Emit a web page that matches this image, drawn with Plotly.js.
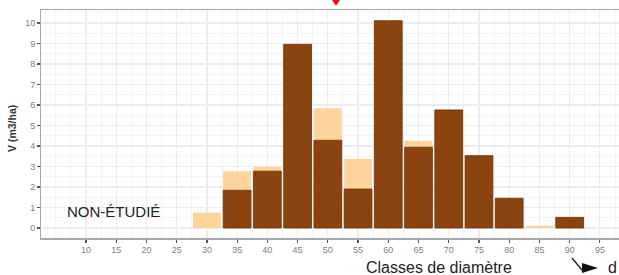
<!DOCTYPE html>
<html><head><meta charset="utf-8">
<script src="https://cdn.plot.ly/plotly-3.0.1.min.js"></script>
<style>html,body{margin:0;padding:0;background:#fff;}#chart{width:619px;height:275px;}</style>
</head><body><div id="chart"></div>
<script>
const classes = [30, 35, 40, 45, 50, 55, 60, 65, 70, 75, 80, 85, 90];
const volumeTotal = [0.75, 2.77, 2.99, 8.96, 5.84, 3.37, 10.11, 4.26, 5.76, 3.53, 1.45, 0.11, 0.52];
const volumePart  = [null, 1.84, 2.77, 8.96, 4.28, 1.9, 10.11, 3.94, 5.76, 3.53, 1.45, null, 0.52];
const xTicks = [10, 15, 20, 25, 30, 35, 40, 45, 50, 55, 60, 65, 70, 75, 80, 85, 90, 95];
const yTicks = [0, 1, 2, 3, 4, 5, 6, 7, 8, 9, 10];

const px = v => (v - 41) / 578;
const py = v => (238 - v) / 228;

const traces = [
  {type:'bar', x:classes, y:volumeTotal, width:4.6, marker:{color:'#FFD49C', line:{width:0}}, hoverinfo:'x+y'},
  {type:'bar', x:classes, y:volumePart, width:4.6, marker:{color:'#8B4410', line:{width:0.8, color:'#6e3408'}}, hoverinfo:'x+y'}
];
const layout = {
  width:619, height:275, barmode:'overlay', showlegend:false,
  margin:{l:41, r:0, t:10, b:37},
  paper_bgcolor:'#fff', plot_bgcolor:'#fff',
  font:{family:'Liberation Sans, Arial, sans-serif'},
  xaxis:{range:[2.56, 98.16], tickvals:xTicks, ticktext:xTicks.map(String),
    showline:true, linecolor:'#a8a8a8', linewidth:1.5, mirror:true,
    ticks:'outside', ticklen:3, tickcolor:'#555', tickwidth:1.2,
    tickfont:{size:9, color:'#808080'},
    showgrid:true, gridcolor:'#ececec', gridwidth:1.2, zeroline:false,
    minor:{dtick:2.5, tick0:0, showgrid:true, gridcolor:'#f4f4f4', gridwidth:1}},
  yaxis:{range:[-0.488, 10.634], tickvals:yTicks,
    showline:true, linecolor:'#a8a8a8', linewidth:1,
    ticks:'outside', ticklen:3, tickcolor:'#555', tickwidth:1.2,
    tickfont:{size:9, color:'#808080'},
    showgrid:true, gridcolor:'#ececec', gridwidth:1.2, zeroline:false,
    minor:{dtick:0.5, tick0:0, showgrid:true, gridcolor:'#f4f4f4', gridwidth:1}},
  annotations:[
    {text:'<b>V (m3/ha)</b>', xref:'paper', yref:'paper', x:px(12), y:py(129), showarrow:false,
     textangle:-90, font:{size:10.5, color:'#3a3a3a'}, xanchor:'center', yanchor:'middle'},
    {text:'NON-ÉTUDIÉ', xref:'paper', yref:'paper', x:px(113), y:py(211), showarrow:false,
     font:{size:15, color:'#222'}, xanchor:'center', yanchor:'middle'},
    {text:'Classes de diamètre', xref:'paper', yref:'paper', x:px(439), y:py(267), showarrow:false,
     font:{size:16, color:'#222'}, xanchor:'center', yanchor:'middle'},
    {text:'d', xref:'paper', yref:'paper', x:px(612), y:py(267), showarrow:false,
     font:{size:16, color:'#222'}, xanchor:'center', yanchor:'middle'}
  ],
  shapes:[
    {type:'path', xref:'paper', yref:'paper',
     path:'M '+px(332)+' '+py(0)+' L '+px(340)+' '+py(0)+' L '+px(336)+' '+py(6)+' Z',
     fillcolor:'#e8101a', line:{width:0}},
    {type:'line', xref:'paper', yref:'paper', x0:px(572), y0:py(258), x1:px(582), y1:py(270),
     line:{color:'#111', width:1.2}},
    {type:'path', xref:'paper', yref:'paper',
     path:'M '+px(582)+' '+py(263)+' L '+px(598)+' '+py(268)+' L '+px(582)+' '+py(273)+' Z',
     fillcolor:'#111', line:{width:0}}
  ]
};
Plotly.newPlot('chart', traces, layout, {displayModeBar:false, staticPlot:true});
</script></body></html>
